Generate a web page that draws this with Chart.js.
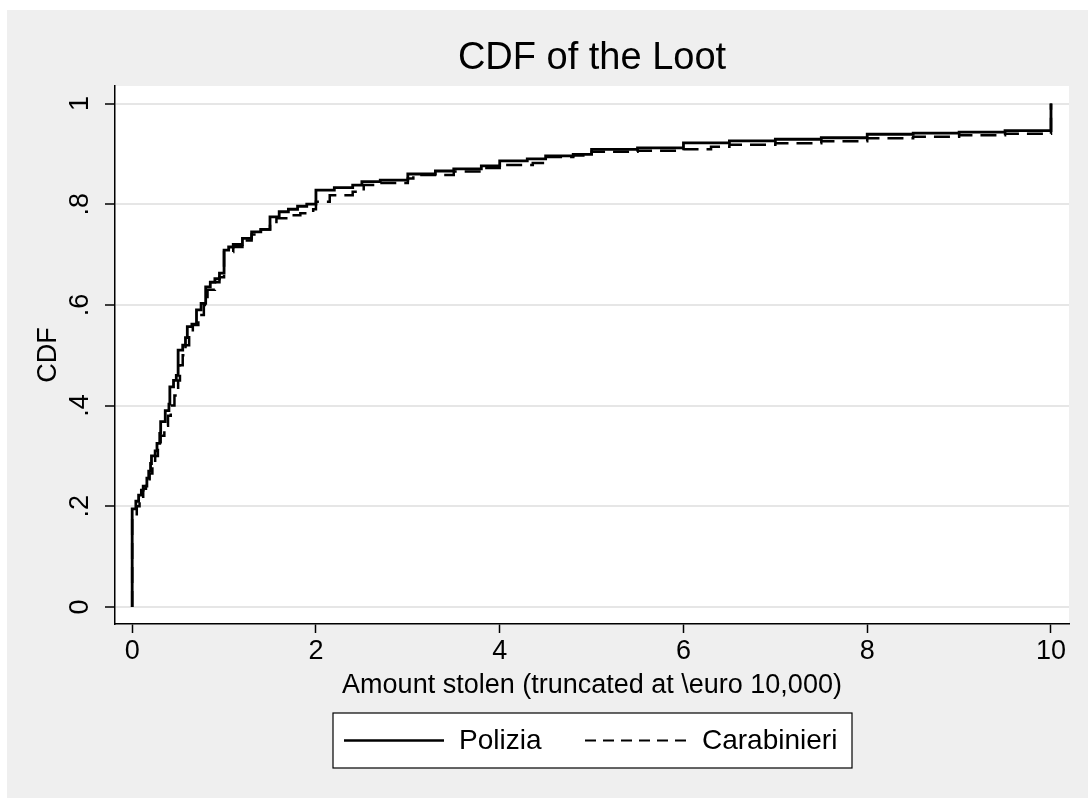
<!DOCTYPE html>
<html>
<head>
<meta charset="utf-8">
<script src="https://cdn.jsdelivr.net/npm/chart.js@4.4.1/dist/chart.umd.min.js"></script>
<style>
  html, body { margin: 0; padding: 0; background: #ffffff; }
  #wrap { position: absolute; left: 7px; top: 10px; width: 1081px; height: 788px; background: #efefef; }
  canvas { display: block; }
</style>
</head>
<body>
<div id="wrap"><canvas id="c" width="1081" height="788"></canvas></div>
<script>
// ---- data ----
const chartTitle = 'CDF of the Loot';
const xAxisTitle = 'Amount stolen (truncated at \\euro 10,000)';
const yAxisTitle = 'CDF';
const seriesNames = ['Polizia', 'Carabinieri'];

const xTickValues = [0, 2, 4, 6, 8, 10];
const xTickLabels = ['0', '2', '4', '6', '8', '10'];
const yTickValues = [0, 0.2, 0.4, 0.6, 0.8, 1];
const yTickLabels = ['0', '.2', '.4', '.6', '.8', '1'];

const polX = [0, 0, 0.04, 0.07, 0.10, 0.12, 0.16, 0.18, 0.20, 0.21, 0.25, 0.27, 0.30, 0.31, 0.36, 0.40, 0.41, 0.45, 0.48, 0.50, 0.55, 0.58, 0.60, 0.65, 0.70, 0.75, 0.80, 0.85, 0.90, 0.95, 1.00, 1.05, 1.10, 1.20, 1.30, 1.40, 1.50, 1.60, 1.70, 1.80, 1.90, 2.00, 2.20, 2.40, 2.50, 2.70, 3.00, 3.30, 3.50, 3.80, 4.00, 4.30, 4.50, 4.80, 5.00, 5.50, 6.00, 6.50, 7.00, 7.50, 8.00, 8.50, 9.00, 9.50, 10.0];
const polY = [0, 0.195, 0.21, 0.222, 0.232, 0.24, 0.256, 0.27, 0.285, 0.30, 0.31, 0.325, 0.345, 0.368, 0.39, 0.403, 0.437, 0.45, 0.46, 0.51, 0.52, 0.535, 0.557, 0.562, 0.59, 0.603, 0.636, 0.645, 0.652, 0.663, 0.709, 0.715, 0.72, 0.732, 0.745, 0.75, 0.775, 0.785, 0.79, 0.796, 0.80, 0.828, 0.833, 0.838, 0.845, 0.848, 0.86, 0.866, 0.87, 0.876, 0.886, 0.89, 0.896, 0.899, 0.909, 0.912, 0.922, 0.926, 0.929, 0.932, 0.939, 0.941, 0.943, 0.946, 1.0];

const carX = [0, 0, 0.05, 0.08, 0.12, 0.15, 0.19, 0.22, 0.25, 0.28, 0.31, 0.35, 0.39, 0.42, 0.46, 0.50, 0.52, 0.55, 0.58, 0.62, 0.66, 0.72, 0.78, 0.82, 0.90, 0.95, 1.00, 1.10, 1.20, 1.30, 1.40, 1.50, 1.57, 1.70, 1.83, 1.97, 2.00, 2.15, 2.40, 2.52, 2.70, 3.00, 3.06, 3.50, 3.80, 4.00, 4.36, 4.47, 4.80, 5.00, 5.50, 6.00, 6.30, 6.50, 7.00, 7.50, 8.00, 8.50, 9.00, 9.50, 10.0];
const carY = [0, 0.18, 0.20, 0.215, 0.235, 0.25, 0.265, 0.285, 0.30, 0.32, 0.34, 0.36, 0.38, 0.40, 0.42, 0.45, 0.48, 0.50, 0.52, 0.545, 0.56, 0.58, 0.60, 0.63, 0.645, 0.655, 0.705, 0.715, 0.728, 0.74, 0.75, 0.76, 0.772, 0.778, 0.782, 0.79, 0.805, 0.818, 0.825, 0.838, 0.842, 0.851, 0.858, 0.865, 0.872, 0.878, 0.882, 0.894, 0.897, 0.904, 0.906, 0.909, 0.914, 0.918, 0.921, 0.925, 0.931, 0.934, 0.937, 0.940, 1.0];

// ---- chart ----
const FONT = "'Liberation Sans', Arial, Helvetica, sans-serif";
const toPts = (xs, ys) => xs.map((x, i) => ({ x: x, y: ys[i] }));

const plotBg = {
  id: 'plotBg',
  beforeDraw(chart) {
    const { ctx, chartArea: a } = chart;
    ctx.save();
    ctx.fillStyle = '#ffffff';
    ctx.fillRect(a.left, a.top, a.right - a.left, a.bottom - a.top);
    ctx.restore();
  }
};

const boxLegend = {
  id: 'boxLegend',
  afterDraw(chart) {
    const ctx = chart.ctx;
    const bx = 326, by = 703, bw = 519, bh = 55;
    const cy = by + bh / 2;
    ctx.save();
    ctx.fillStyle = '#ffffff';
    ctx.fillRect(bx, by, bw, bh);
    ctx.strokeStyle = '#000000';
    ctx.lineWidth = 1.2;
    ctx.strokeRect(bx, by, bw, bh);
    const items = [
      { x0: 337, x1: 437, tx: 452, dash: [], lw: 2.4 },
      { x0: 578, x1: 680, tx: 695, dash: [11, 7], lw: 2.2 }
    ];
    items.forEach((it, i) => {
      ctx.beginPath();
      ctx.setLineDash(it.dash);
      ctx.lineWidth = it.lw;
      ctx.moveTo(it.x0, cy);
      ctx.lineTo(it.x1, cy);
      ctx.stroke();
      ctx.setLineDash([]);
      ctx.fillStyle = '#000000';
      ctx.font = '28px ' + FONT;
      ctx.textAlign = 'left';
      ctx.textBaseline = 'middle';
      ctx.fillText(seriesNames[i], it.tx, cy + 1);
    });
    ctx.restore();
  }
};

new Chart(document.getElementById('c'), {
  type: 'line',
  data: {
    datasets: [
      {
        label: seriesNames[0],
        data: toPts(polX, polY),
        borderColor: '#000000',
        borderWidth: 2.8,
        pointRadius: 0,
        stepped: true,
        fill: false,
        order: 1
      },
      {
        label: seriesNames[1],
        data: toPts(carX, carY),
        borderColor: '#000000',
        borderWidth: 2.5,
        borderDash: [16, 8],
        pointRadius: 0,
        stepped: true,
        fill: false,
        order: 0
      }
    ]
  },
  options: {
    responsive: false,
    animation: false,
    layout: { padding: { left: 0, top: 0, right: 19, bottom: 0 } },
    plugins: {
      legend: { display: false },
      title: { display: false },
      tooltip: { enabled: false }
    },
    scales: {
      x: {
        type: 'linear',
        position: 'bottom',
        min: -0.187,
        max: 10.196,
        afterBuildTicks: (s) => { s.ticks = xTickValues.map(v => ({ value: v })); },
        afterFit: (s) => { s.height = 174; },
        ticks: {
          callback: (v) => xTickLabels[xTickValues.indexOf(v)],
          color: '#000000',
          font: { family: FONT, size: 27 },
          padding: 2,
          maxRotation: 0,
          minRotation: 0
        },
        grid: { drawOnChartArea: false, tickLength: 9, tickColor: '#000000', tickWidth: 1.5 },
        border: { display: true, color: '#000000', width: 1.5 },
        title: {
          display: true,
          text: xAxisTitle,
          color: '#000000',
          font: { family: FONT, size: 27 },
          padding: { top: 0, bottom: 96 }
        }
      },
      xTop: {
        type: 'linear',
        position: 'top',
        min: 0,
        max: 1,
        afterFit: (s) => { s.height = 76; },
        ticks: { display: false },
        grid: { display: false },
        border: { display: false },
        title: {
          display: true,
          text: chartTitle,
          color: '#000000',
          font: { family: FONT, size: 38 },
          padding: { top: 26, bottom: 0 }
        }
      },
      y: {
        type: 'linear',
        position: 'left',
        min: -0.0338,
        max: 1.0348,
        afterBuildTicks: (s) => { s.ticks = yTickValues.map(v => ({ value: v })); },
        afterFit: (s) => { s.width = 108; },
        ticks: {
          callback: (v) => yTickLabels[yTickValues.indexOf(v)],
          color: '#000000',
          font: { family: FONT, size: 27 },
          padding: 12.7,
          minRotation: 90,
          maxRotation: 90,
          crossAlign: 'center'
        },
        grid: { color: '#e6e6e6', lineWidth: 2, tickLength: 10, tickColor: '#000000', tickWidth: 1.5 },
        border: { display: true, color: '#000000', width: 1.5 },
        title: {
          display: true,
          text: yAxisTitle,
          color: '#000000',
          font: { family: FONT, size: 27 },
          padding: { top: 25, bottom: 0 }
        }
      }
    }
  },
  plugins: [plotBg, boxLegend]
});
</script>
</body>
</html>
